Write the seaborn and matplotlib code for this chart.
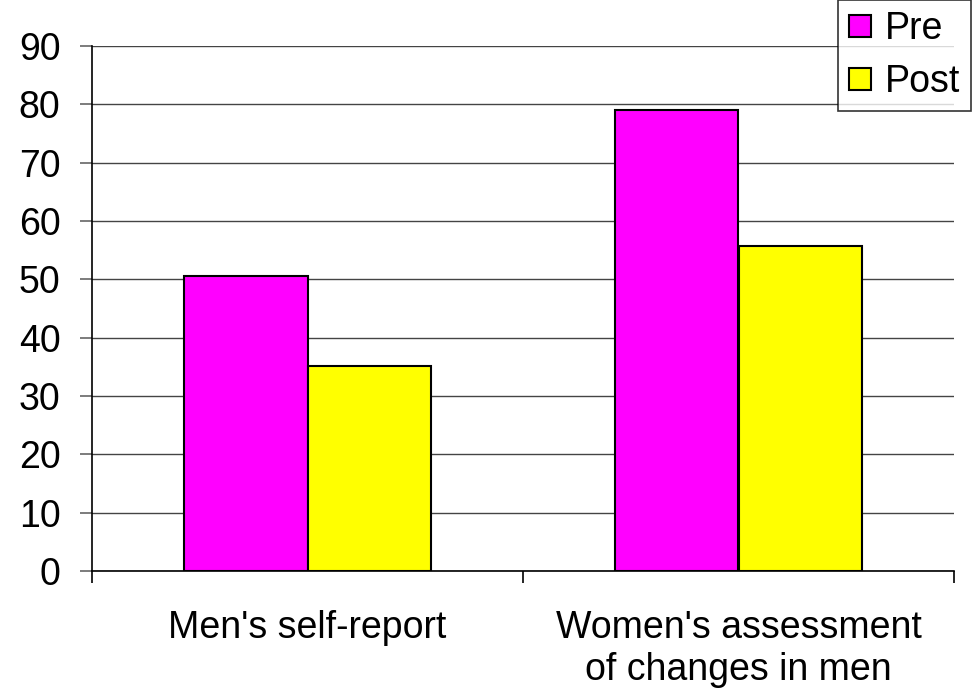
import matplotlib
matplotlib.use("Agg")
import matplotlib.pyplot as plt
import seaborn as sns
import pandas as pd
from matplotlib.ticker import FixedLocator

categories = ["Men's self-report", "Women's assessment\nof changes in men"]
series = ["Pre", "Post"]
pre_values = [50.5, 79.0]
post_values = [35.1, 55.7]
colors = ["#FF00FF", "#FFFF00"]
y_ticks = [0, 10, 20, 30, 40, 50, 60, 70, 80, 90]

df = pd.DataFrame({
    "category": categories * 2,
    "series": ["Pre"] * 2 + ["Post"] * 2,
    "value": pre_values + post_values,
})

sns.set_style("white")
plt.rcParams["font.family"] = ["Liberation Sans", "DejaVu Sans"]
plt.rcParams["text.color"] = "black"
plt.rcParams["xtick.color"] = "black"
plt.rcParams["ytick.color"] = "black"

FS = 27

fig = plt.figure(figsize=(9.75, 6.89), dpi=100)
ax = fig.add_axes([92 / 975, 1 - 571 / 689, (954 - 92) / 975, (571 - 46) / 689])

sns.barplot(data=df, x="category", y="value", hue="series", hue_order=series,
            palette=colors, width=0.575, edgecolor="black", linewidth=1.5,
            saturation=1, ax=ax, zorder=3)

ax.set_xlim(-0.5, 1.5)
ax.set_ylim(0, 90)
ax.set_yticks(y_ticks)
ax.set_yticklabels([str(v) for v in y_ticks], fontsize=FS, color="black")
ax.yaxis.grid(True, color="#444444", linewidth=1.0, zorder=0)
ax.set_axisbelow(True)

ax.set_xticks([0, 1])
ax.set_xticklabels(categories, fontsize=FS, linespacing=1.22, color="black")
ax.tick_params(axis="x", which="major", length=0, pad=28)
ax.xaxis.set_minor_locator(FixedLocator([-0.5, 0.5, 1.5]))
ax.tick_params(axis="x", which="minor", length=8.6, width=1.2, color="black", direction="out", bottom=True)
ax.tick_params(axis="y", which="major", length=8.6, width=1.2, color="#666666", direction="out", left=True, pad=14)

for s in ["top", "right"]:
    ax.spines[s].set_visible(False)
for s in ["left", "bottom"]:
    ax.spines[s].set_color("black")
    ax.spines[s].set_linewidth(1.2)
ax.set_xlabel("")
ax.set_ylabel("")

handles, labels = ax.get_legend_handles_labels()
ax.get_legend().remove()
leg = fig.legend(handles, labels, loc="upper right", bbox_to_anchor=(971 / 975, 1.0),
                 bbox_transform=fig.transFigure, fontsize=FS, frameon=True, fancybox=False,
                 handlelength=0.6, handleheight=0.55, handletextpad=0.35,
                 borderpad=0.3, labelspacing=0.45, borderaxespad=0.0)
leg.get_frame().set_edgecolor("black")
leg.get_frame().set_linewidth(1.2)
for t in leg.get_texts():
    t.set_color("black")

fig.savefig("out.png", dpi=100, facecolor="white")
